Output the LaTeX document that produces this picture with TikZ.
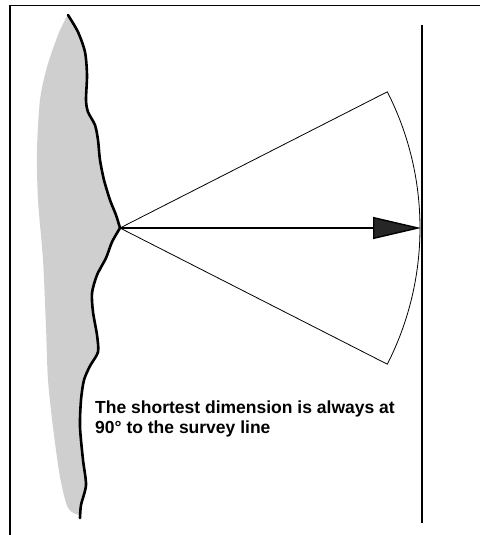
\documentclass[tikz,border=0pt]{standalone}
\usepackage{fontspec}
\setmainfont{Liberation Sans}
\usetikzlibrary{positioning,arrows.meta}

\begin{document}
\begin{tikzpicture}[
  x=1pt, y=-1pt,
  coast/.style={line width=2.6pt, line join=round, line cap=round},
  land/.style={fill=gray!38, draw=none},
  sector/.style={line width=0.8pt},
  offset/.style={line width=1.4pt, -{Triangle[length=48pt, width=22pt, fill=black!85]}},
  survey/.style={line width=1.3pt},
  caption/.style={font=\fontsize{17.5}{20}\selectfont\bfseries, align=left, inner sep=0pt, anchor=north west}
]
\useasboundingbox (0,0) rectangle (480,535);

% frame (top and left only)
\draw[line width=1.3pt] (10,535) -- (10,5.5) -- (480,5.5);

% land behind the coastline
\fill[land] plot[smooth, tension=0.45] coordinates {
  (68,15) (78,32) (85,52) (87,75) (86,100) (88,112) (95,125) (98,140)
  (100,160) (104,180) (110,200) (116,215) (120,228) (112,242) (106,258)
  (97,275) (92,293) (93,312) (97,335) (98,352) (90,366) (84,380)
  (81,400) (80,427) (83,460) (86,485) (81,505) (79,515)}
  -- plot[smooth, tension=0.5] coordinates {
  (79,515) (68,508) (60,477) (53,427) (48,380) (46,327) (43,260) (38,200)
  (37,150) (40,100) (47,67) (58,35) (66,18)} -- cycle;

% coastline
\coordinate (apex) at (120,228);
\draw[coast] plot[smooth, tension=0.45] coordinates {
  (68,15) (78,32) (85,52) (87,75) (86,100) (88,112) (95,125) (98,140)
  (100,160) (104,180) (110,200) (116,215) (120,228)};
\draw[coast] plot[smooth, tension=0.45] coordinates {
  (120,228) (112,242) (106,258) (97,275) (92,293) (93,312) (97,335)
  (98,352) (90,366) (84,380) (81,400) (80,427) (83,460) (86,485)
  (81,505) (80,518)};

% survey line
\coordinate (sTop) at (422,25);
\coordinate (sBot) at (422,523);
\coordinate (foot) at (421,228);
\draw[survey] (sTop) -- (sBot);

% swing of the tape about the feature
\draw[sector] (apex) -- ++(27:300) coordinate (upEnd)
  arc[start angle=27, end angle=-27, radius=300] coordinate (loEnd) -- (apex);

% shortest offset
\draw[offset] (apex) -- (foot);

\node[caption] (note) at (95,401) {The shortest dimension is always at\\90° to the survey line};
\end{tikzpicture}
\end{document}
